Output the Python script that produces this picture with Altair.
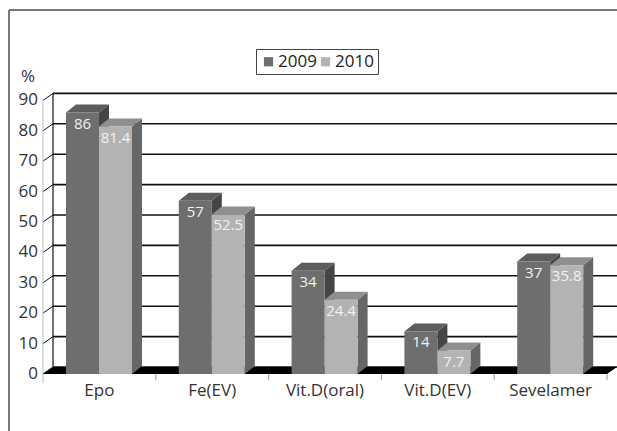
import altair as alt
import pandas as pd

# ---------------- data ----------------
categories = ["Epo", "Fe(EV)", "Vit.D(oral)", "Vit.D(EV)", "Sevelamer"]
years = ["2009", "2010"]
values_2009 = [86, 57, 34, 14, 37]
values_2010 = [81.4, 52.5, 24.4, 7.7, 35.8]
y_ticks = [0, 10, 20, 30, 40, 50, 60, 70, 80, 90]
y_unit = "%"

# ---------------- layout / style ----------------
W, H = 617, 431
X0, CAT_W = 43, 112.8        # pixel of category axis start, pixels per category
Y0, PX_PER = 374, 3.04       # pixel of value 0, pixels per unit
x_domain = [-X0 / CAT_W, (W - X0) / CAT_W]
y_domain = [(Y0 - H) / PX_PER, Y0 / PX_PER]
DX = 10 / CAT_W              # depth offset (x, in category units)
DYB = 8 / PX_PER             # depth offset for bars (value units)
DYG = 7 / PX_PER             # depth offset for wall / grid
PAIR_OFF = 23 / CAT_W
BAR_W = 33 / CAT_W
FONT = "Open Sans"
front_colors = ["#6e6e6e", "#b3b3b3"]
top_colors = ["#5d5d5d", "#8f8f8f"]
side_colors = ["#454545", "#666666"]

sx = alt.Scale(domain=x_domain, nice=False, zero=False)
sy = alt.Scale(domain=y_domain, nice=False, zero=False)
X = lambda f: alt.X(f, type="quantitative", scale=sx, axis=None)
Y = lambda f: alt.Y(f, type="quantitative", scale=sy, axis=None)

# ---------------- build geometry from data ----------------
fronts, tops, sides = [], [], []
for j, (yr, vals) in enumerate(zip(years, [values_2009, values_2010])):
    for i, (cat, v) in enumerate(zip(categories, vals)):
        u0 = i + PAIR_OFF + j * BAR_W
        u1 = u0 + BAR_W
        fronts.append(dict(year=yr, cat=cat, u0=u0, u1=u1, v=v, zero=0,
                           uc=(u0 + u1) / 2, label=f"{v:g}"))
        g = f"{yr}-{cat}"
        tops += [dict(year=yr, g=g, x=u0, y=v, y2=v),
                 dict(year=yr, g=g, x=u0 + DX, y=v + DYB, y2=v),
                 dict(year=yr, g=g, x=u1, y=v + DYB, y2=v),
                 dict(year=yr, g=g, x=u1 + DX, y=v + DYB, y2=v + DYB)]
        sides += [dict(year=yr, g=g, x=u1, y=v, y2=0),
                  dict(year=yr, g=g, x=u1 + DX, y=v + DYB, y2=DYB)]
fronts = pd.DataFrame(fronts)
tops = pd.DataFrame(tops)
sides = pd.DataFrame(sides)

n = len(categories)
grid = pd.DataFrame(dict(v=y_ticks, vb=[t + DYG for t in y_ticks], a=0, b=DX,
                         xe=x_domain[1], lab=[str(t) for t in y_ticks]))
floor = pd.DataFrame(dict(x=[0, DX, n, n + DX], y=[0, DYG, DYG, DYG], y2=[0, 0, 0, DYG]))
wall = pd.DataFrame(dict(x=[DX], y=[DYG], y2=[max(y_ticks) + DYG]))
front_axis = pd.DataFrame(dict(x=[0], y=[-3], y2=[max(y_ticks)]))
xticks = pd.DataFrame(dict(x=list(range(1, n + 1)), y=0, y2=-2))
xlabels = pd.DataFrame(dict(x=[i + 0.5 for i in range(n)], y=0, lab=categories))
unit = pd.DataFrame(dict(x=[0], y=[max(y_ticks)], lab=[y_unit]))

layers = []
# frame
layers.append(alt.Chart(pd.DataFrame({"a": [0]})).mark_rule(color="#777", strokeWidth=2).encode(
    x=alt.value(9), x2=alt.value(W), y=alt.value(10)))
layers.append(alt.Chart(pd.DataFrame({"a": [0]})).mark_rule(color="#777", strokeWidth=2).encode(
    x=alt.value(9), y=alt.value(10), y2=alt.value(H)))
# gridlines on back wall
layers.append(alt.Chart(grid).mark_rule(color="#111", strokeWidth=1.6).encode(
    x=X("b"), x2="xe", y=Y("vb")))
# diagonal ticks
layers.append(alt.Chart(grid).mark_rule(color="#111", strokeWidth=1).encode(
    x=X("a"), x2="b", y=Y("v"), y2="vb"))
# wall edge
layers.append(alt.Chart(wall).mark_rule(color="#111", strokeWidth=1.2).encode(
    x=X("x"), y=Y("y"), y2="y2"))
# front axis line
layers.append(alt.Chart(front_axis).mark_rule(color="#bbb", strokeWidth=1).encode(
    x=X("x"), y=Y("y"), y2="y2"))
# floor
layers.append(alt.Chart(floor).mark_area(color="#000", opacity=1, interpolate="linear").encode(
    x=X("x"), y=Y("y"), y2="y2"))
# x ticks
layers.append(alt.Chart(xticks).mark_rule(color="#999", strokeWidth=1).encode(
    x=X("x"), y=Y("y"), y2="y2"))

# bars
for j, yr in enumerate(years):
    layers.append(alt.Chart(sides[sides.year == yr]).mark_area(
        color=side_colors[j], opacity=1, interpolate="linear").encode(
        x=X("x"), y=Y("y"), y2="y2", detail="g:N"))
    layers.append(alt.Chart(tops[tops.year == yr]).mark_area(
        color=top_colors[j], opacity=1, interpolate="linear").encode(
        x=X("x"), y=Y("y"), y2="y2", detail="g:N"))
    layers.append(alt.Chart(fronts[fronts.year == yr]).mark_rect(opacity=1).encode(
        x=X("u0"), x2="u1", y=Y("zero"), y2="v",
        color=alt.Color("year:N", scale=alt.Scale(domain=years, range=front_colors),
                        legend=alt.Legend(title=None, orient="none", legendX=256, legendY=49,
                                          direction="horizontal", symbolType="square",
                                          symbolSize=85, symbolStrokeWidth=0,
                                          labelFontSize=17, labelFont=FONT, labelColor="#222",
                                          strokeColor="#444", padding=4, columnPadding=0,
                                          labelOffset=1))))

# value labels
layers.append(alt.Chart(fronts).mark_text(color="#f2f2f2", font=FONT, fontSize=15,
                                          baseline="middle", align="center", dy=11).encode(
    x=X("uc"), y=Y("v"), text="label:N"))
# y labels
layers.append(alt.Chart(grid).mark_text(color="#333", font=FONT, fontSize=17,
                                        baseline="middle", align="right", dx=-5).encode(
    x=X("a"), y=Y("v"), text="lab:N"))
# unit label
layers.append(alt.Chart(unit).mark_text(color="#333", font=FONT, fontSize=17,
                                        baseline="middle", align="center", dx=-15, dy=-23).encode(
    x=X("x"), y=Y("y"), text="lab:N"))
# x labels
layers.append(alt.Chart(xlabels).mark_text(color="#333", font=FONT, fontSize=17,
                                           baseline="middle", align="center", dy=17).encode(
    x=X("x"), y=Y("y"), text="lab:N"))

chart = alt.layer(*layers).properties(
    width=W, height=H, autosize=alt.AutoSizeParams(type="none"), padding=0,
    background="white"
).configure_view(strokeWidth=0)

chart.save("out.html", embed_options={"renderer": "svg", "actions": False})
